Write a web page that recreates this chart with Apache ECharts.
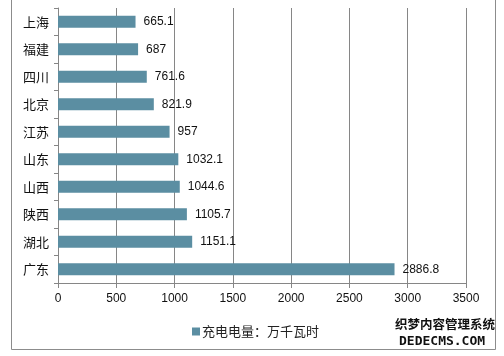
<!DOCTYPE html>
<html><head><meta charset="utf-8">
<script src="https://cdn.jsdelivr.net/npm/echarts@6/dist/echarts.min.js"></script>
<style>html,body{margin:0;padding:0;background:#fff}#c{width:504px;height:356px}</style>
</head><body><div id="c"></div>
<script>
const categories = ['上海','福建','四川','北京','江苏','山东','山西','陕西','湖北','广东'];
const values = [665.1, 687, 761.6, 821.9, 957, 1032.1, 1044.6, 1105.7, 1151.1, 2886.8];
const seriesName = '充电电量：万千瓦时';
const xMin = 0, xMax = 3500, xStep = 500;

const chart = echarts.init(document.getElementById('c'), null, {renderer:'canvas'});
const cjk = '"Noto Sans CJK SC", sans-serif';
chart.setOption({
  animation:false,
  backgroundColor:'#fff',
  grid:{left:58, right:38, top:8, bottom:73, containLabel:false},
  legend:{
    data:[seriesName], left:187, top:320, itemWidth:8, itemHeight:8, itemGap:4,
    icon:'rect', textStyle:{fontFamily:cjk, fontSize:13, color:'#222', padding:[0,0,0,-3]}
  },
  xAxis:{
    type:'value', min:xMin, max:xMax, interval:xStep,
    axisLine:{show:true, lineStyle:{color:'#868686', width:1}},
    axisTick:{show:true, length:5, lineStyle:{color:'#868686'}},
    axisLabel:{color:'#111', fontSize:12, fontFamily:'"Liberation Sans", sans-serif', margin:10,
      formatter:v => String(v)},
    splitLine:{show:true, lineStyle:{color:'#868686', width:1}}
  },
  yAxis:{
    type:'category', data:categories, inverse:true,
    axisLine:{show:true, lineStyle:{color:'#868686', width:1}},
    axisTick:{show:true, length:4, inside:false, lineStyle:{color:'#868686'}},
    axisLabel:{color:'#111', fontSize:13, fontFamily:cjk, margin:9}
  },
  series:[{
    name:seriesName, type:'bar', data:values, barWidth:12,
    itemStyle:{color:'#5b8ea2'},
    label:{show:true, position:'right', distance:8, color:'#111', fontSize:12,
      fontFamily:'"Liberation Sans", sans-serif'}
  }],
  graphic:[
    {type:'rect', shape:{x:11.5, y:-2, width:484, height:351.5}, style:{fill:'none', stroke:'#8c8c8c', lineWidth:1}, silent:true, z:-1},
    {type:'text', left:395, top:318, style:{text:'织梦内容管理系统', font:'bold 12.5px "Noto Sans CJK SC"', fill:'#111'}},
    {type:'text', left:399, top:335, style:{text:'DEDECMS.COM', font:'bold 13px "DejaVu Sans Mono"', fill:'#111'}}
  ]
});
</script></body></html>
